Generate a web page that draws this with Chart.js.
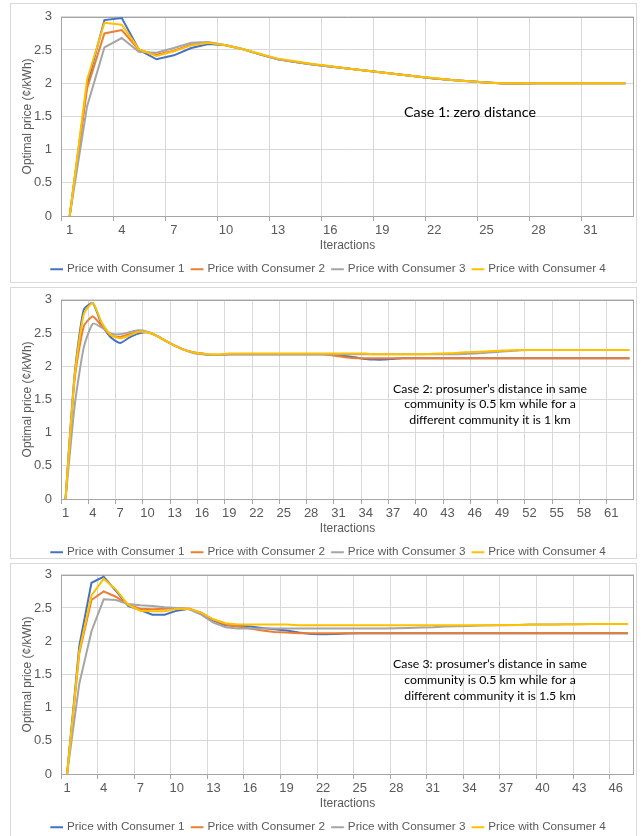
<!DOCTYPE html>
<html>
<head>
<meta charset="utf-8">
<script src="https://cdn.jsdelivr.net/npm/chart.js@4.4.1/dist/chart.umd.min.js"></script>
<style>
  html, body { margin: 0; padding: 0; background: #fff; overflow: hidden; }
  body { width: 642px; height: 836px; position: relative; }
  .frame { position: absolute; left: 10px; width: 627px; border: 1px solid #d9d9d9; box-sizing: border-box; }
  .plot { position: absolute; left: 0; width: 642px; height: 285px; }
</style>
</head>
<body>
<div class="frame" style="top:3px;height:280px"></div>
<div class="frame" style="top:287px;height:272px"></div>
<div class="frame" style="top:563px;height:290px"></div>
<div class="plot" style="top:0"><canvas id="case1"></canvas></div>
<div class="plot" style="top:283px"><canvas id="case2"></canvas></div>
<div class="plot" style="top:558px"><canvas id="case3"></canvas></div>
<script>
// ── Data ──

const seriesNames = ['Price with Consumer 1', 'Price with Consumer 2', 'Price with Consumer 3', 'Price with Consumer 4'];

const iters1 = [1,2,3,4,5,6,7,8,9,10,11,12,13,14,15,16,17,18,19,20,21,22,23,24,25,26,27,28,29,30,31,32,33];
const case1C1 = [0,1.97,2.95,2.98,2.50,2.36,2.42,2.53,2.59,2.57,2.51,2.43,2.36,2.32,2.28,2.25,2.22,2.19,2.16,2.13,2.10,2.07,2.05,2.03,2.01,1.995,1.995,2.0,2.0,2.0,2.0,2.0,2.0];
const case1C2 = [0,1.92,2.75,2.80,2.50,2.43,2.49,2.58,2.61,2.57,2.51,2.43,2.36,2.32,2.28,2.25,2.22,2.19,2.16,2.13,2.10,2.07,2.05,2.03,2.01,1.995,1.995,2.0,2.0,2.0,2.0,2.0,2.0];
const case1C3 = [0,1.65,2.54,2.68,2.47,2.46,2.53,2.61,2.62,2.57,2.51,2.43,2.36,2.32,2.28,2.25,2.22,2.19,2.16,2.13,2.10,2.07,2.05,2.03,2.01,1.995,1.995,2.0,2.0,2.0,2.0,2.0,2.0];
const case1C4 = [0,2.05,2.91,2.88,2.51,2.41,2.48,2.57,2.61,2.57,2.51,2.44,2.37,2.33,2.29,2.26,2.22,2.19,2.16,2.13,2.10,2.08,2.05,2.03,2.01,2.0,2.0,2.0,2.0,2.0,2.0,2.0,2.0];

const iters2 = [1,2,3,4,5,6,7,8,9,10,11,12,13,14,15,16,17,18,19,20,21,22,23,24,25,26,27,28,29,30,31,32,
  33,34,35,36,37,38,39,40,41,42,43,44,45,46,47,48,49,50,51,52,53,54,55,56,57,58,59,60,61,62,63];
const case2C1 = [0,1.88,2.85,2.95,2.62,2.43,2.35,2.43,2.49,2.51,2.46,2.38,2.31,2.25,2.21,2.19,2.17,2.17,
  2.18,2.18,2.18,2.18,2.18,2.18,2.18,2.18,2.18,2.18,2.18,2.18,2.17,2.15,2.13,2.11,2.10,2.10,2.11,
  2.12,2.12,2.12,2.12,2.12,2.12,2.12,2.12,2.12,2.12,2.12,2.12,2.12,2.12,2.12,2.12,2.12,2.12,2.12,2.12,2.12,2.12,2.12,2.12,2.12,2.12];
const case2C2 = [0,1.80,2.60,2.75,2.60,2.46,2.44,2.48,2.52,2.51,2.46,2.38,2.31,2.25,2.21,2.19,2.17,2.17,
  2.18,2.18,2.18,2.18,2.18,2.18,2.18,2.18,2.18,2.18,2.18,2.17,2.15,2.13,
  2.12,2.12,2.12,2.12,2.12,2.12,2.12,2.12,2.12,2.12,2.12,2.12,2.12,2.12,2.12,2.12,2.12,2.12,2.12,2.12,2.12,2.12,2.12,2.12,2.12,2.12,2.12,2.12,2.12,2.12,2.12];
const case2C3 = [0,1.40,2.28,2.64,2.58,2.49,2.48,2.51,2.54,2.52,2.46,2.38,2.31,2.25,2.20,2.18,2.17,2.17,
  2.18,2.18,2.18,2.18,2.18,2.18,2.18,2.18,2.18,2.18,2.18,2.18,2.18,2.18,2.18,2.18,2.18,2.18,2.18,2.18,2.18,2.18,2.18,2.18,2.18,2.18,
  2.185,2.19,2.20,2.21,2.22,2.23,2.24,
  2.245,2.245,2.245,2.245,2.245,2.245,2.245,2.245,2.245,2.245,2.245,2.245];
const case2C4 = [0,1.85,2.78,2.95,2.65,2.47,2.42,2.46,2.52,2.51,2.46,2.38,2.31,2.25,2.21,2.19,2.18,2.18,
  2.19,2.19,2.19,2.19,2.19,2.19,2.19,2.19,2.19,2.19,2.19,2.19,2.19,2.19,2.19,2.19,
  2.18,2.18,2.18,2.18,2.18,2.18,
  2.185,2.19,2.195,2.20,2.21,2.215,2.22,2.23,2.235,2.24,2.245,
  2.245,2.245,2.245,2.245,2.245,2.245,2.245,2.245,2.245,2.245,2.245,2.245];

const iters3 = [1,2,3,4,5,6,7,8,9,10,11,12,13,14,15,16,17,18,19,20,21,22,23,24,
  25,26,27,28,29,30,31,32,33,34,35,36,37,38,39,40,41,42,43,44,45,46,47];
const case3C1 = [0,1.93,2.88,2.97,2.76,2.53,2.47,2.40,2.40,2.46,2.49,2.42,2.31,2.24,2.23,2.22,2.20,2.18,2.16,2.13,2.11,2.105,2.11,2.115,
  2.12,2.12,2.12,2.12,2.12,2.12,2.12,2.12,2.12,2.12,2.12,2.12,2.12,2.12,2.12,2.12,2.12,2.12,2.12,2.12,2.12,2.12,2.12];
const case3C2 = [0,1.82,2.62,2.75,2.67,2.55,2.49,2.48,2.49,2.50,2.49,2.43,2.32,2.25,2.22,2.19,2.16,2.14,2.13,
  2.12,2.12,2.12,2.12,2.12,2.12,2.12,2.12,2.12,2.12,2.12,2.12,2.12,2.12,2.12,2.12,2.12,2.12,2.12,2.12,2.12,2.12,2.12,2.12,2.12,2.12,2.12,2.12];
const case3C3 = [0,1.36,2.15,2.63,2.62,2.56,2.54,2.53,2.51,2.50,2.48,2.40,2.28,2.21,2.19,
  2.19,2.19,2.19,2.19,2.19,2.19,2.19,2.19,2.19,2.19,2.19,2.19,
  2.195,2.20,2.205,2.21,2.22,2.225,2.23,2.235,2.24,2.24,2.245,2.25,2.25,2.25,2.255,2.255,2.26,2.26,2.26,2.26];
const case3C4 = [0,1.85,2.69,2.94,2.78,2.55,2.46,2.45,2.45,2.49,2.49,2.43,2.33,2.27,2.25,2.25,2.25,2.25,2.25,
  2.24,2.24,2.24,2.24,2.24,2.24,2.24,2.24,2.24,2.24,2.24,2.24,2.24,2.24,2.24,2.24,2.24,
  2.245,2.245,2.25,2.25,2.25,2.255,2.255,2.26,2.26,2.26,2.26];

const case1Note = ['Case 1: zero distance'];
const case2Note = ['Case 2: prosumer\u2019s distance in same', 'community is 0.5 km while for a', 'different community it is 1 km'];
const case3Note = ['Case 3: prosumer\u2019s distance in same', 'community is 0.5 km while for a', 'different community it is 1.5 km'];

// ── Style ──

const FONT = "'Liberation Sans', Arial, sans-serif";
const NOTE_FONT = "Lato, 'Open Sans', sans-serif";
const TEXT = '#595959';
const GRID = '#d9d9d9';
const COLORS = ['#4472c4', '#ed7d31', '#a5a5a5', '#ffc000'];

// plot area border like Excel's
const plotFrame = {
  id: 'plotFrame',
  beforeDatasetsDraw(chart) {
    const { ctx, chartArea: a } = chart;
    ctx.save();
    ctx.strokeStyle = '#a6a6a6';
    ctx.lineWidth = 1;
    ctx.strokeRect(Math.round(a.left) + 0.5, Math.round(a.top) + 0.5,
                   Math.round(a.width) - 1, Math.round(a.height));
    ctx.restore();
  }
};

// text box inside the plot
const caseNote = {
  id: 'caseNote',
  afterDatasetsDraw(chart, args, opts) {
    if (!opts.lines) return;
    const { ctx } = chart;
    ctx.save();
    ctx.font = `100px ${NOTE_FONT}`;
    const size = 100 * opts.width / ctx.measureText(opts.lines[0]).width;
    ctx.font = `${size.toFixed(2)}px ${NOTE_FONT}`;
    ctx.fillStyle = '#000';
    ctx.textAlign = 'center';
    ctx.textBaseline = 'middle';
    opts.lines.forEach((t, i) => ctx.fillText(t, opts.x, opts.y + i * opts.gap));
    ctx.restore();
  }
};

function makeChart(id, labels, series, note, tension) {
  const datasets = series.map((d, i) => ({
    label: seriesNames[i],
    data: d,
    borderColor: COLORS[i],
    backgroundColor: COLORS[i],
    borderWidth: 2,
    pointRadius: 0,
    tension: tension,
    order: series.length - i,   // later series drawn on top
  }));

  return new Chart(document.getElementById(id), {
    type: 'line',
    data: { labels, datasets },
    plugins: [plotFrame, caseNote],
    options: {
      responsive: true,
      maintainAspectRatio: false,
      animation: false,
      layout: { padding: { top: 14, left: 24, right: 8, bottom: 0 } },
      plugins: {
        tooltip: { enabled: false },
        legend: {
          position: 'bottom',
          labels: {
            usePointStyle: true,
            pointStyle: 'line',
            boxWidth: 9,
            boxHeight: 9,
            padding: 8,
            color: TEXT,
            font: { size: 11.7, family: FONT },
            sort: (a, b) => a.datasetIndex - b.datasetIndex,
          }
        },
        caseNote: note,
      },
      scales: {
        x: {
          offset: true,
          afterFit: s => { s.height = 39.3; },
          border: { display: false },
          grid: {
            offset: true,
            tickLength: 5,
            color: c => c.index % 3 === 0 ? GRID : 'rgba(0,0,0,0)',
            tickColor: c => c.index % 3 === 0 ? '#a6a6a6' : 'rgba(0,0,0,0)',
          },
          ticks: {
            autoSkip: false,
            maxRotation: 0,
            padding: 2,
            color: TEXT,
            font: { size: 13, family: FONT },
            callback: (v, i) => i % 3 === 0 ? String(labels[i]) : '',
          },
          title: {
            display: true, text: 'Iteractions', color: TEXT,
            font: { size: 12, family: FONT }, padding: { top: 0, bottom: 2 },
          },
        },
        y: {
          min: 0,
          max: 3,
          afterFit: s => { s.width = 37; },
          border: { display: false },
          grid: { color: GRID, drawTicks: false },
          ticks: {
            stepSize: 0.5,
            padding: 9,
            color: TEXT,
            font: { size: 13, family: FONT },
            callback: v => String(v),
          },
          title: {
            display: true, text: 'Optimal price (\u00a2/kWh)', color: TEXT,
            font: { size: 12, family: FONT }, padding: { top: -4, bottom: 0 },
          },
        },
      },
    }
  });
}

makeChart('case1', iters1, [case1C1, case1C2, case1C3, case1C4],
  { lines: case1Note, x: 470, y: 112, gap: 16, width: 132 }, 0);
makeChart('case2', iters2, [case2C1, case2C2, case2C3, case2C4],
  { lines: case2Note, x: 490, y: 106, gap: 15.5, width: 194 }, 0.2);
makeChart('case3', iters3, [case3C1, case3C2, case3C3, case3C4],
  { lines: case3Note, x: 490, y: 106, gap: 15.8, width: 194 }, 0);
</script>
</body>
</html>
